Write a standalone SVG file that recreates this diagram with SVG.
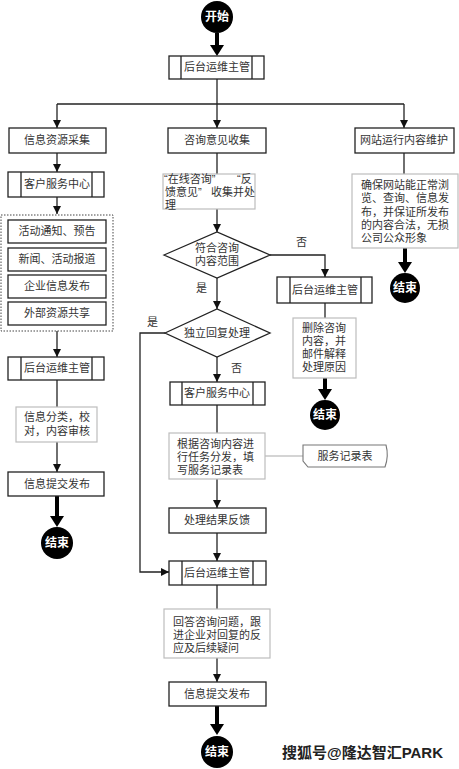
<svg xmlns="http://www.w3.org/2000/svg" width="459" height="769" viewBox="0 0 459 769">
<style>
.box{fill:#fff;stroke:#222;stroke-width:1.3}
.note{fill:#fff;stroke:#bdbdbd;stroke-width:1.2}
.ln{fill:none;stroke:#222;stroke-width:1.3}
.gl{fill:none;stroke:#aaa;stroke-width:1.2}
.thk{fill:none;stroke:#000;stroke-width:4}
.t{font-family:"Liberation Sans","Noto Sans CJK SC",sans-serif;font-size:11px;fill:#333}
.c{text-anchor:middle}
.w{font-family:"Liberation Sans","Noto Sans CJK SC",sans-serif;font-size:12px;font-weight:bold;fill:#fff;text-anchor:middle}
</style>
<defs>
<marker id="a" markerWidth="8" markerHeight="8" refX="8" refY="4" orient="auto" markerUnits="userSpaceOnUse"><path d="M0,0 L8,4 L0,8 Z" fill="#111"/></marker>
</defs>
<rect width="459" height="769" fill="#fff"/>

<g id="connectors">
<path class="thk" d="M217,33 V46"/><path d="M210,45 H224 L217,56 Z"/>
<path class="ln" d="M217,79 V104"/>
<path class="ln" d="M57,104 H404"/>
<path class="ln" d="M57,104 V128" marker-end="url(#a)"/>
<path class="ln" d="M217,104 V128" marker-end="url(#a)"/>
<path class="ln" d="M404,104 V128" marker-end="url(#a)"/>
<path class="ln" d="M57,153 V172" marker-end="url(#a)"/>
<path class="ln" d="M57,197 V214" marker-end="url(#a)"/>
<path class="ln" d="M57,331 V357" marker-end="url(#a)"/>
<path class="ln" d="M57,380 V407"/>
<path class="ln" d="M57,442 V472" marker-end="url(#a)"/>
<path class="thk" d="M57,496 V517"/><path d="M50,516 H64 L57,527 Z"/>
<path class="ln" d="M217,153 V174"/>
<path class="ln" d="M217,209 V232" marker-end="url(#a)"/>
<path class="ln" d="M270,255 H325 V277" marker-end="url(#a)"/>
<path class="ln" d="M217,278 V309" marker-end="url(#a)"/>
<path class="ln" d="M165,333 H140 V572 H169" marker-end="url(#a)"/>
<path class="ln" d="M217,357 V382" marker-end="url(#a)"/>
<path class="ln" d="M217,405 V433"/>
<path class="gl" d="M265,456 H304"/>
<path class="ln" d="M217,479 V508" marker-end="url(#a)"/>
<path class="ln" d="M217,533 V561" marker-end="url(#a)"/>
<path class="ln" d="M217,585 V609"/>
<path class="ln" d="M217,658 V682" marker-end="url(#a)"/>
<path class="thk" d="M217,706 V725"/><path d="M210,724 H224 L217,735 Z"/>
<path class="ln" d="M404,153 V174"/>
<path class="thk" d="M405,248 V263"/><path d="M398,262 H412 L405,273 Z"/>
<path class="ln" d="M325,303 V318"/>
<path class="thk" d="M325,378 V390"/><path d="M318,389 H332 L325,400 Z"/>
</g>

<g id="start"><circle cx="217" cy="17" r="16" fill="#000"/><text class="w" x="217" y="21">开始</text></g>
<g id="mgr0"><rect class="box" x="169" y="56" width="95" height="23"/><path class="ln" d="M181,56 V79 M252,56 V79"/><text class="t c" x="217" y="71">后台运维主管</text></g>

<g id="collect"><rect class="box" x="9" y="128" width="97" height="25"/><text class="t c" x="57" y="144">信息资源采集</text></g>
<g id="consult"><rect class="box" x="168" y="128" width="98" height="25"/><text class="t c" x="217" y="144">咨询意见收集</text></g>
<g id="maintain"><rect class="box" x="355" y="128" width="99" height="25"/><text class="t c" x="404" y="144">网站运行内容维护</text></g>

<g id="csc1"><rect class="box" x="8" y="172" width="96" height="25"/><path class="ln" d="M21,172 V197 M92,172 V197"/><text class="t c" x="57" y="188">客户服务中心</text></g>
<g id="group"><rect x="1" y="215" width="112" height="116" fill="none" stroke="#444" stroke-width="1" stroke-dasharray="1.5,1.5"/>
<rect class="box" x="8" y="220" width="98" height="23"/><text class="t c" x="57" y="235">活动通知、预告</text>
<rect class="box" x="8" y="248" width="98" height="23"/><text class="t c" x="57" y="263">新闻、活动报道</text>
<rect class="box" x="8" y="275" width="98" height="23"/><text class="t c" x="57" y="290">企业信息发布</text>
<rect class="box" x="8" y="302" width="98" height="23"/><text class="t c" x="57" y="317">外部资源共享</text></g>
<g id="mgr1"><rect class="box" x="8" y="357" width="96" height="23"/><path class="ln" d="M21,357 V380 M92,357 V380"/><text class="t c" x="57" y="372">后台运维主管</text></g>
<g id="note1"><rect class="note" x="16" y="407" width="81" height="35"/><text class="t c" x="57" y="421">信息分类，校</text><text class="t c" x="57" y="435">对，内容审核</text></g>
<g id="pub1"><rect class="box" x="8" y="472" width="96" height="24"/><text class="t c" x="57" y="488">信息提交发布</text></g>
<g id="end1"><circle cx="57" cy="543" r="16" fill="#000"/><text class="w" x="57" y="547">结束</text></g>

<g id="note2"><rect class="note" x="163" y="174" width="92" height="35"/><text class="t" x="164" y="183">“在线咨询”<tspan x="237">“反</tspan></text><text class="t" x="165" y="196">馈意见”<tspan x="211">收集并处</tspan></text><text class="t" x="165" y="209">理</text></g>
<g id="d1"><path class="box" d="M164,255 L217,232 L270,255 L217,278 Z"/><text class="t c" x="217" y="252">符合咨询</text><text class="t c" x="217" y="265">内容范围</text></g>
<text class="t" x="296" y="246">否</text>
<text class="t" x="196" y="292">是</text>
<g id="d2"><path class="box" d="M165,333 L217,309 L270,333 L217,357 Z"/><text class="t c" x="217" y="337">独立回复处理</text></g>
<text class="t" x="147" y="326">是</text>
<text class="t" x="231" y="372">否</text>
<g id="csc2"><rect class="box" x="170" y="382" width="95" height="23"/><path class="ln" d="M182,382 V405 M253,382 V405"/><text class="t c" x="217" y="397">客户服务中心</text></g>
<g id="note3"><rect class="note" x="169" y="433" width="96" height="46"/><text class="t" x="177" y="448">根据咨询内容进</text><text class="t" x="177" y="461">行任务分发，填</text><text class="t" x="177" y="474">写服务记录表</text></g>
<g id="record"><path d="M303,445 H386 Q389,456 385,467 H308 L303,461 Z" fill="#fff" stroke="#777" stroke-width="1.1"/><text class="t c" x="345" y="460">服务记录表</text></g>
<g id="feedback"><rect class="box" x="169" y="508" width="97" height="25"/><text class="t c" x="217" y="524">处理结果反馈</text></g>
<g id="mgr3"><rect class="box" x="169" y="561" width="97" height="24"/><path class="ln" d="M182,561 V585 M253,561 V585"/><text class="t c" x="217" y="577">后台运维主管</text></g>
<g id="note4"><rect class="note" x="164" y="609" width="106" height="49"/><text class="t" x="173" y="626">回答咨询问题，跟</text><text class="t" x="173" y="639">进企业对回复的反</text><text class="t" x="173" y="652">应及后续疑问</text></g>
<g id="pub2"><rect class="box" x="169" y="682" width="97" height="24"/><text class="t c" x="217" y="698">信息提交发布</text></g>
<g id="end2"><circle cx="217" cy="752" r="16" fill="#000"/><text class="w" x="217" y="756">结束</text></g>

<g id="note5"><rect class="note" x="352" y="174" width="106" height="74"/><text class="t" x="361" y="189">确保网站能正常浏</text><text class="t" x="361" y="202">览、查询、信息发</text><text class="t" x="361" y="216">布，并保证所发布</text><text class="t" x="361" y="229">的内容合法，无损</text><text class="t" x="361" y="242">公司公众形象</text></g>
<g id="end3"><circle cx="405" cy="288" r="15" fill="#000"/><text class="w" x="405" y="292">结束</text></g>

<g id="mgr2"><rect class="box" x="277" y="277" width="95" height="26"/><path class="ln" d="M290,277 V303 M361,277 V303"/><text class="t c" x="325" y="294">后台运维主管</text></g>
<g id="note6"><rect class="note" x="293" y="318" width="63" height="60"/><text class="t c" x="324" y="332">删除咨询</text><text class="t c" x="324" y="345">内容，并</text><text class="t c" x="324" y="358">邮件解释</text><text class="t c" x="324" y="371">处理原因</text></g>
<g id="end4"><circle cx="325" cy="415" r="15" fill="#000"/><text class="w" x="325" y="419">结束</text></g>

<text x="282" y="758" font-family="'Liberation Sans','Noto Sans CJK SC',sans-serif" font-size="15" font-weight="bold" fill="#222">搜狐号@隆达智汇PARK</text>
</svg>
